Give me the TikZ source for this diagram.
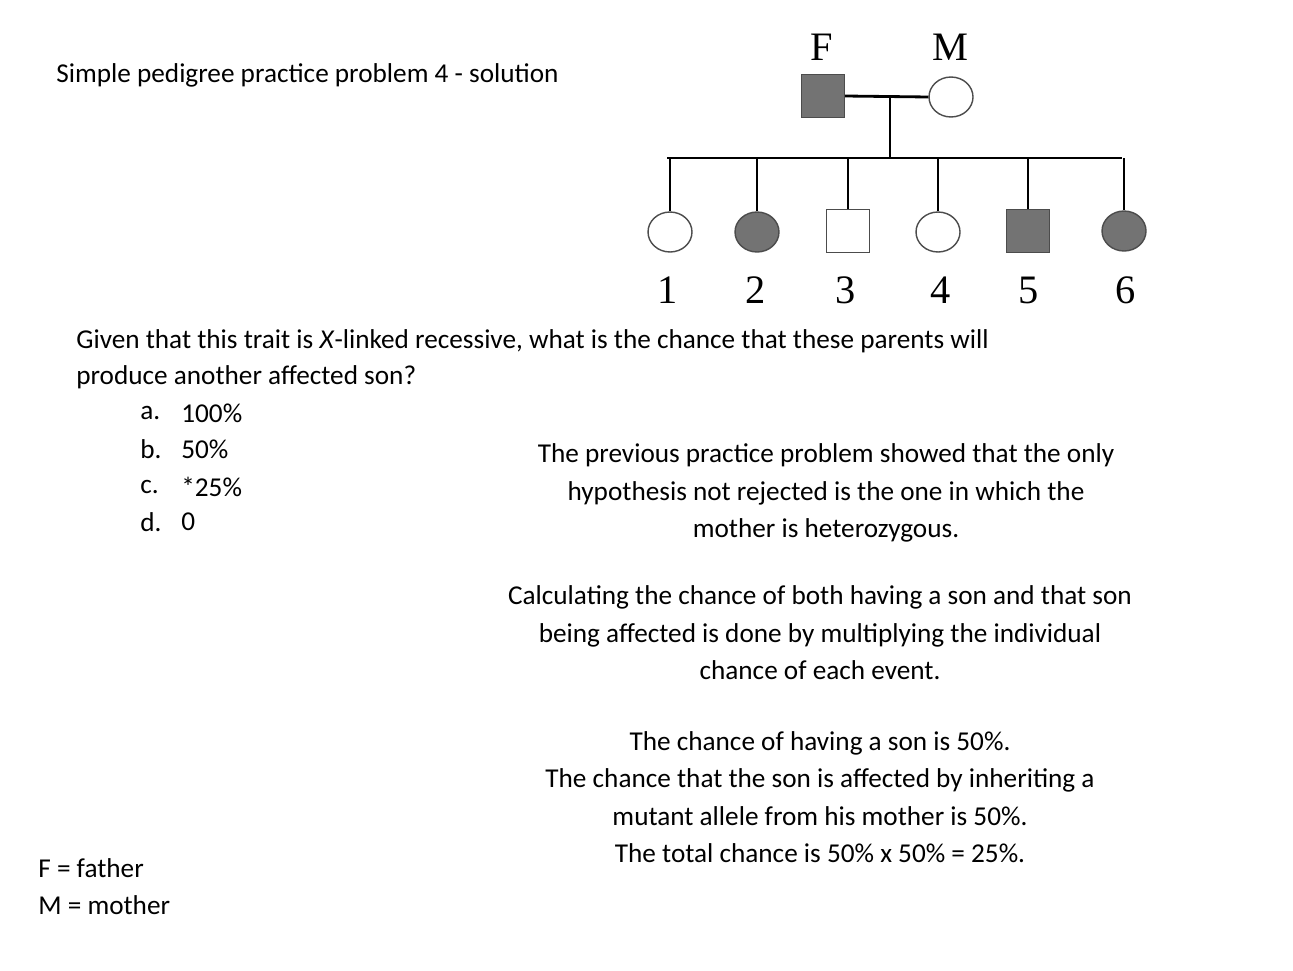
\documentclass[tikz,border=0pt]{standalone}
\usepackage{fontspec}
\usetikzlibrary{shapes.geometric}
\setmainfont{Carlito}
\newfontfamily\tms{Liberation Serif}
\begin{document}
\begin{tikzpicture}[x=0.02cm,y=-0.02cm,
  txt/.style={font=\fontsize{15.5pt}{20pt}\selectfont,inner sep=0},
  num/.style={font=\tms\fontsize{23pt}{26pt}\selectfont,inner sep=0},
  aff/.style={fill=black!55,draw=black!70,line width=0.8pt},
  unaff/.style={fill=white,draw=black!70,line width=0.8pt},
  sq/.style={rectangle,minimum width=0.86cm,minimum height=0.86cm},
  ci/.style={ellipse,minimum width=0.88cm,minimum height=0.8cm},
  ln/.style={line width=1.6pt}]
\useasboundingbox (0,0) rectangle (1293,970);
% parents
\node[sq,aff] (F) at (823,96) {};
\node[ci,unaff] (M) at (951,97) {};
\node[num] (Fl) at (822,47) {F};
\node[num] (Ml) at (950,47) {M};
\draw[ln] (F.east) -- (M.west);
\coordinate (mid) at (890,97);
\coordinate (sib) at (890,158);
\draw[ln] (mid) -- (sib);
\coordinate (sl) at (667,158);
\coordinate (sr) at (1122,158);
\draw[ln] (sl) -- (sr);
% children
\node[ci,unaff] (c1) at (670,232) {};
\node[ci,aff] (c2) at (757,232) {};
\node[sq,unaff] (c3) at (848,231) {};
\node[ci,unaff] (c4) at (938,232) {};
\node[sq,aff] (c5) at (1028,231) {};
\node[ci,aff] (c6) at (1124,231) {};
\foreach \c/\x in {c1/670,c2/757,c3/848,c4/938,c5/1028,c6/1124}{
  \coordinate (t\c) at (\x,158);
  \draw[ln] (t\c) -- (\c.north);
}
\node[num] (n1) at (668,290) {1};
\node[num] (n2) at (756,290) {2};
\node[num] (n3) at (846,290) {3};
\node[num] (n4) at (941,290) {4};
\node[num] (n5) at (1029,290) {5};
\node[num] (n6) at (1126,290) {6};
% texts
\node[txt,anchor=west] (title) at (56,75) {Simple pedigree practice problem 4 - solution};
\node[txt,anchor=west] (q1) at (76,341) {Given that this trait is \textit{X}-linked recessive, what is the chance that these parents will};
\node[txt,anchor=west] (q2) at (76,377) {produce another affected son?};
\node[txt,anchor=west] (oa) at (140,413) {a.};
\node[txt,anchor=west] (ob) at (140,449) {b.};
\node[txt,anchor=west] (oc) at (140,487) {c.};
\node[txt,anchor=west] (od) at (140,522) {d.};
\node[txt,anchor=west] (va) at (181,413) {100\%};
\node[txt,anchor=west] (vb) at (181,449) {50\%};
\node[txt,anchor=west] (vc) at (181,487) {*25\%};
\node[txt,anchor=west] (vd) at (181,522) {0};
\node[txt,align=center] (p1) at (826,493) {The previous practice problem showed that the only\\[1.3pt]hypothesis not rejected is the one in which the\\[1.3pt]mother is heterozygous.};
\node[txt,align=center] (p2) at (820,633) {Calculating the chance of both having a son and that son\\[1.3pt]being affected is done by multiplying the individual\\[1.3pt]chance of each event.};
\node[txt,align=center] (p3) at (820,797) {The chance of having a son is 50\%.\\[1.3pt]The chance that the son is affected by inheriting a\\[1.3pt]mutant allele from his mother is 50\%.\\[1.3pt]The total chance is 50\% x 50\% = 25\%.};
\node[txt,anchor=west] (k1) at (38,868) {F = father};
\node[txt,anchor=west] (k2) at (38,905) {M = mother};
\end{tikzpicture}
\end{document}
